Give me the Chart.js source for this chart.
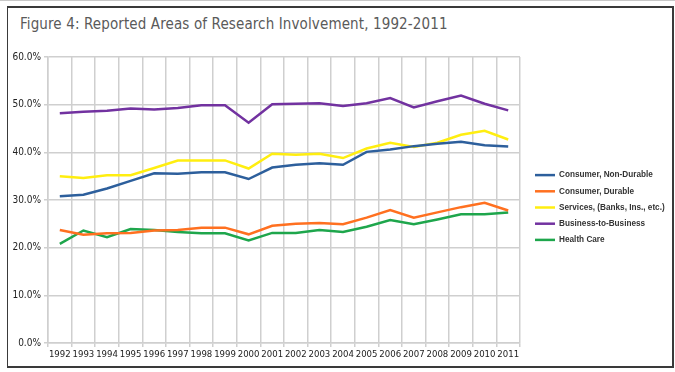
<!DOCTYPE html>
<html lang="en">
<head>
    <meta charset="UTF-8">
    <title>Figure 4: Reported Areas of Research Involvement, 1992-2011</title>
    <script src="https://cdn.jsdelivr.net/npm/chart.js"></script>
    <style>
        html, body { margin: 0; padding: 0; background: #fff; }
        body { width: 675px; height: 372px; position: relative; overflow: hidden; }
        .topline { position: absolute; left: 0; top: 0; width: 675px; height: 1px; background: #c8c8c8; }
        .frame {
            position: absolute; left: 7px; top: 6px; width: 664px; height: 358px;
            border: 2px solid #3a3a3a; border-left-width: 1px;
        }
        .title {
            position: absolute; left: 20px; top: 15px;
            font-family: "DejaVu Sans Condensed", "DejaVu Sans", sans-serif;
            font-size: 15px; letter-spacing: 0.12px; color: #5a5a5a; white-space: nowrap;
        }
        #chart { position: absolute; left: 0; top: 0; }
    </style>
</head>
<body>
    <div class="topline"></div>
    <div class="frame"></div>
    <div class="title">Figure 4: Reported Areas of Research Involvement, 1992-2011</div>
    <canvas id="chart" width="675" height="372"></canvas>

    <script>
        // data (percent)
        var years = ['1992', '1993', '1994', '1995', '1996', '1997', '1998', '1999', '2000', '2001',
                     '2002', '2003', '2004', '2005', '2006', '2007', '2008', '2009', '2010', '2011'];
        var consumerNonDurable = [30.8, 31.1, 32.4, 34.0, 35.6, 35.5, 35.8, 35.8, 34.4, 36.8,
                                  37.4, 37.7, 37.4, 40.1, 40.6, 41.3, 41.8, 42.2, 41.5, 41.2];
        var consumerDurable = [23.7, 22.7, 23.0, 23.1, 23.6, 23.7, 24.2, 24.2, 22.8, 24.6,
                               25.0, 25.2, 24.9, 26.3, 27.9, 26.3, 27.4, 28.5, 29.4, 27.8];
        var services = [35.0, 34.6, 35.2, 35.2, 36.7, 38.3, 38.3, 38.3, 36.6, 39.7,
                        39.5, 39.7, 38.8, 40.8, 42.0, 41.1, 42.0, 43.7, 44.5, 42.7];
        var b2b = [48.2, 48.5, 48.7, 49.2, 49.0, 49.3, 49.9, 49.9, 46.2, 50.1,
                   50.2, 50.3, 49.7, 50.3, 51.4, 49.4, 50.7, 51.9, 50.2, 48.8];
        var healthCare = [20.8, 23.6, 22.2, 23.9, 23.7, 23.3, 23.0, 23.0, 21.5, 23.1,
                          23.1, 23.7, 23.3, 24.4, 25.8, 24.9, 25.9, 27.0, 27.0, 27.4];
        var yTicks = [0, 10, 20, 30, 40, 50, 60];

        var tickFont = { family: '"DejaVu Sans Condensed", "DejaVu Sans", sans-serif', size: 9.5 };

        function series(label, data, color) {
            return {
                label: label,
                data: data,
                borderColor: color,
                backgroundColor: color,
                borderWidth: 2.5,
                pointRadius: 0,
                tension: 0,
                fill: false
            };
        }

        // put the legend in the right-hand column, like the original
        var legendPlace = {
            id: 'legendPlace',
            beforeLayout: function(chart) {
                var lg = chart.legend;
                if (lg && !lg._fixed) {
                    var fit = lg.fit;
                    lg.fit = function() { fit.call(this); this.width = 155; };
                    lg._fixed = true;
                }
            },
            afterLayout: function(chart) {
                var lg = chart.legend;
                lg.left += 7; lg.right += 7;
                lg.top -= 7; lg.bottom -= 7;
            }
        };

        var ctx = document.getElementById('chart').getContext('2d');
        var chart = new Chart(ctx, {
            type: 'line',
            data: {
                labels: years,
                datasets: [
                    series('Consumer, Non-Durable', consumerNonDurable, '#2d5f9c'),
                    series('Consumer, Durable', consumerDurable, '#ff7020'),
                    series('Services, (Banks, Ins., etc.)', services, '#ffee10'),
                    series('Business-to-Business', b2b, '#7232a0'),
                    series('Health Care', healthCare, '#1ea64c')
                ]
            },
            options: {
                responsive: false,
                animation: false,
                layout: { padding: { left: 0, right: 0, top: 57, bottom: 0 } },
                plugins: {
                    title: { display: false },
                    tooltip: { enabled: false },
                    legend: {
                        position: 'right',
                        align: 'center',
                        labels: {
                            usePointStyle: true,
                            pointStyle: 'line',
                            pointStyleWidth: 20,
                            padding: 8,
                            color: '#333',
                            font: { family: '"Liberation Sans", Arial, sans-serif', size: 8.2, weight: 'bold', lineHeight: 1.2 }
                        }
                    }
                },
                scales: {
                    x: {
                        offset: true,
                        grid: { offset: true, color: '#cfcfcf', lineWidth: 1.5, tickLength: 4 },
                        border: { color: '#cfcfcf', width: 1.5 },
                        ticks: { color: '#222', font: tickFont, maxRotation: 0, autoSkip: false, padding: 2 },
                        afterFit: function(s) { s.height = 29; }
                    },
                    y: {
                        min: 0,
                        max: 60,
                        afterBuildTicks: function(s) { s.ticks = yTicks.map(function(v) { return { value: v }; }); },
                        grid: { color: '#cfcfcf', lineWidth: 1.5, tickLength: 4 },
                        border: { color: '#cfcfcf', width: 1.5 },
                        ticks: {
                            color: '#222', font: { family: tickFont.family, size: 10 }, padding: 3,
                            callback: function(v) { return v.toFixed(1) + '%'; }
                        },
                        afterFit: function(s) { s.width = 48; }
                    }
                }
            },
            plugins: [legendPlace]
        });
    </script>
</body>
</html>
